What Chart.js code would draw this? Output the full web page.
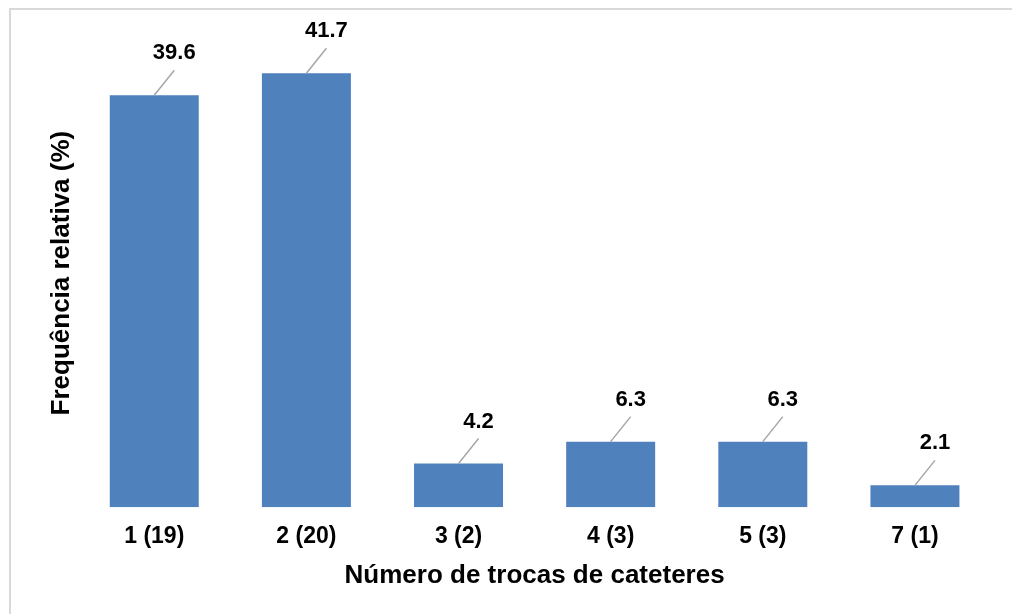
<!DOCTYPE html>
<html lang="pt-BR">
<head>
    <meta charset="UTF-8">
    <title>Número de trocas de cateteres</title>
    <style>
        html, body { margin: 0; padding: 0; background: #fff; overflow: hidden; }
        /* moldura cinza do gráfico (só topo e esquerda ficam visíveis) */
        .frame { position: absolute; left: 9px; top: 8px; width: 1100px; height: 700px;
                 border-top: 2px solid #d9d9d9; border-left: 2px solid #d9d9d9; }
        .wrap { position: absolute; left: 0; top: 0; width: 1012px; height: 614px; }
    </style>
</head>
<body>
    <div class="frame"></div>
    <div class="wrap"><canvas id="chart" width="1012" height="614"></canvas></div>

    <script src="https://cdn.jsdelivr.net/npm/chart.js@4.4.0/dist/chart.umd.min.js"></script>
    <script>
        // dados: nº de trocas (n pacientes) e frequência relativa em %
        const categorias = ['1 (19)', '2 (20)', '3 (2)', '4 (3)', '5 (3)', '7 (1)'];
        const frequencia = [39.6, 41.7, 4.2, 6.3, 6.3, 2.1];
        const yMax = 45;

        const FONTE = '"Liberation Sans", Arial, sans-serif';

        // rótulos de valor com linha guia, estilo Excel
        const rotulosPlugin = {
            id: 'rotulos',
            afterDatasetsDraw(chart) {
                const ctx = chart.ctx;
                const meta = chart.getDatasetMeta(0);
                ctx.save();
                ctx.font = 'bold 22px ' + FONTE;
                ctx.textAlign = 'center';
                ctx.textBaseline = 'middle';
                meta.data.forEach((bar, i) => {
                    const x = bar.x, y = bar.y;
                    ctx.strokeStyle = '#a6a6a6';
                    ctx.lineWidth = 1.5;
                    ctx.beginPath();
                    ctx.moveTo(x, y);
                    ctx.lineTo(x + 20, y - 25);
                    ctx.stroke();
                    ctx.fillStyle = '#000';
                    ctx.fillText(frequencia[i].toFixed(1), x + 20, y - 42);
                });
                ctx.restore();
            }
        };

        new Chart(document.getElementById('chart'), {
            type: 'bar',
            data: {
                labels: categorias,
                datasets: [{
                    data: frequencia,
                    backgroundColor: '#4f81bd',
                    borderWidth: 0,
                    categoryPercentage: 1,
                    barPercentage: 0.585
                }]
            },
            options: {
                responsive: false,
                animation: false,
                layout: { padding: { left: 46, right: 21, top: 39, bottom: 23 } },
                plugins: { legend: { display: false }, tooltip: { enabled: false } },
                scales: {
                    x: {
                        grid: { display: false, drawTicks: false },
                        border: { display: false },
                        ticks: { color: '#000', padding: 16, font: { family: FONTE, size: 23, weight: 'bold' } },
                        title: {
                            display: true,
                            text: 'Número de trocas de cateteres',
                            color: '#000',
                            padding: { top: 9, bottom: 0 },
                            font: { family: FONTE, size: 26, weight: 'bold' }
                        },
                        // eixo mais baixo: área do gráfico desce até perto dos rótulos
                        afterFit(scale) { scale.height -= 16; }
                    },
                    y: {
                        min: 0,
                        max: yMax,
                        grid: { display: false, drawTicks: false },
                        border: { display: false },
                        ticks: { display: false },
                        title: {
                            display: true,
                            text: 'Frequência relativa (%)',
                            color: '#000',
                            padding: { top: 0, bottom: 1 },
                            font: { family: FONTE, size: 26, weight: 'bold' }
                        }
                    }
                }
            },
            plugins: [rotulosPlugin]
        });
    </script>
</body>
</html>
